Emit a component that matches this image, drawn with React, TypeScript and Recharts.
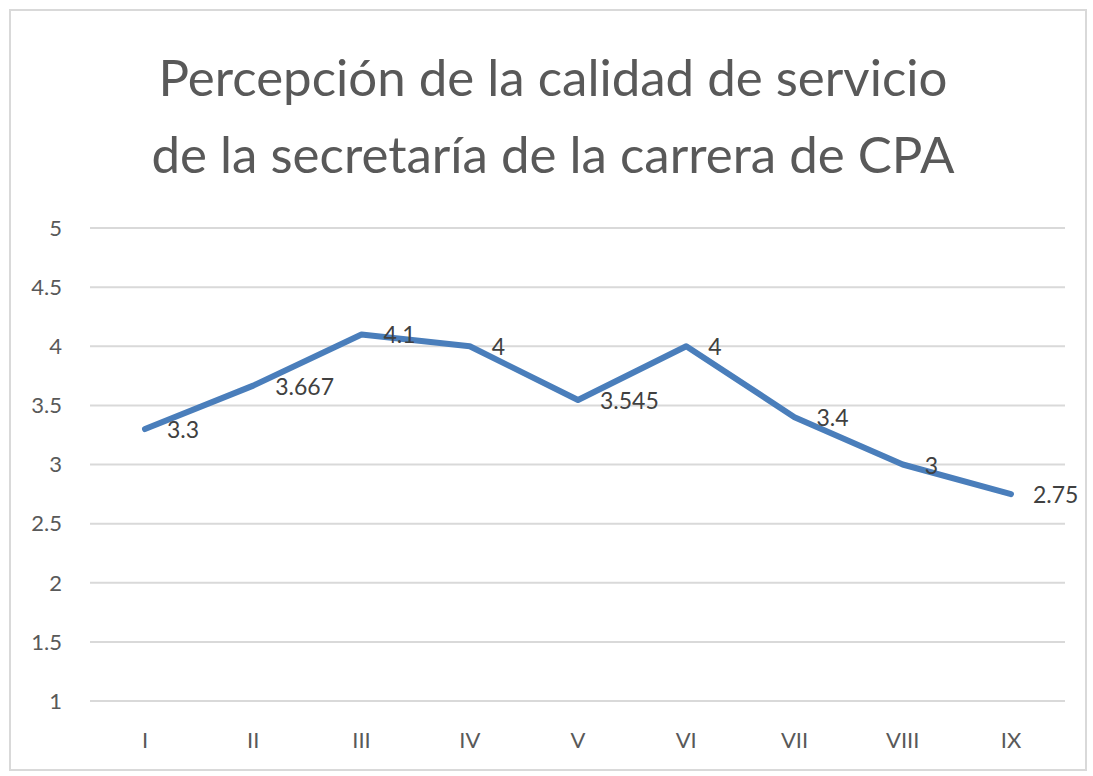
import React from 'react';
import { LineChart, Line, XAxis, YAxis, CartesianGrid, LabelList } from 'recharts';

const categories = ['I', 'II', 'III', 'IV', 'V', 'VI', 'VII', 'VIII', 'IX'];
const values = [3.3, 3.667, 4.1, 4, 3.545, 4, 3.4, 3, 2.75];
const yTicks = [1, 1.5, 2, 2.5, 3, 3.5, 4, 4.5, 5];
const titleLines = ['Percepción de la calidad de servicio', 'de la secretaría de la carrera de CPA'];

const data = categories.map((c, i) => ({ name: c, value: values[i] }));

const FONT = 'Lato, "Open Sans", sans-serif';

const renderLabel = (props: any) => {
  const { x, y, value } = props;
  return (
    <text x={x + 22} y={y + 9} fill="#404040" fontSize={23} fontFamily={FONT} textAnchor="start">
      {value}
    </text>
  );
};

export default function App() {
  return (
    <div style={{ position: 'absolute', left: 0, top: 0, width: 1093, height: 776, background: '#fff' }}>
      <div
        style={{
          position: 'absolute',
          left: 9,
          top: 9,
          width: 1078,
          height: 762,
          border: '2px solid #d9d9d9',
          boxSizing: 'border-box',
        }}
      />
      <div
        style={{
          position: 'absolute',
          left: 0,
          top: 38,
          width: 1106,
          textAlign: 'center',
          fontFamily: FONT,
          fontSize: 51,
          lineHeight: '77px',
          color: '#595959',
        }}
      >
        {titleLines.map((t) => (
          <div key={t}>{t}</div>
        ))}
      </div>
      <div style={{ position: 'absolute', left: 0, top: 0 }}>
        <LineChart width={1093} height={776} data={data} margin={{ top: 228, right: 28, bottom: 0, left: 0 }}>
          <CartesianGrid vertical={false} stroke="#d9d9d9" strokeWidth={2} />
          <XAxis
            dataKey="name"
            axisLine={false}
            tickLine={false}
            tickSize={0}
            tickMargin={31}
            height={75}
            padding={{ left: 55, right: 54 }}
            tick={{ fill: '#595959', fontSize: 22, fontFamily: FONT }}
          />
          <YAxis
            domain={[1, 5]}
            ticks={yTicks}
            axisLine={false}
            tickLine={false}
            tickSize={0}
            tickMargin={28}
            width={90}
            tick={{ fill: '#595959', fontSize: 22, fontFamily: FONT }}
          />
          <Line
            type="linear"
            dataKey="value"
            stroke="#4a7ebb"
            strokeWidth={6}
            dot={false}
            strokeLinejoin="round"
            strokeLinecap="round"
            isAnimationActive={false}
          >
            <LabelList dataKey="value" content={renderLabel} />
          </Line>
        </LineChart>
      </div>
    </div>
  );
}
